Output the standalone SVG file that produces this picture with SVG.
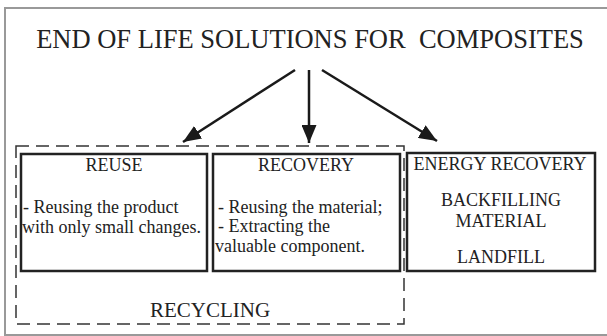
<svg xmlns="http://www.w3.org/2000/svg" width="607" height="336" viewBox="0 0 607 336">
<defs>
<style>
text{font-family:'Liberation Serif','Times New Roman',serif;fill:#222;}
.t{font-size:18px;}
.c{text-anchor:middle;}
.box{fill:none;stroke:#222;stroke-width:2.5;}
.conn line{stroke:#1a1a1a;stroke-width:2.5;}
</style>
<marker id="ah" markerUnits="userSpaceOnUse" markerWidth="19" markerHeight="15" refX="18" refY="7.5" orient="auto">
<path d="M0,0 L18,7.5 L0,15 Z" fill="#1a1a1a"/>
</marker>
</defs>
<rect width="607" height="336" fill="#fff"/>
<rect x="5" y="8" width="612" height="327" fill="none" stroke="#999" stroke-width="2"/>
<g id="title">
<text x="310" y="48" class="c" style="font-size:26.5px;white-space:pre" xml:space="preserve">END OF LIFE SOLUTIONS FOR  COMPOSITES</text>
</g>
<g id="recycling">
<rect x="16" y="146" width="388" height="178" fill="none" stroke="#333" stroke-width="1.5" stroke-dasharray="13 7"/>
<text x="210" y="317" class="c" style="font-size:21px">RECYCLING</text>
</g>
<g id="reuse">
<rect class="box" x="21" y="154" width="186" height="117"/>
<text x="114" y="171" class="t c">REUSE</text>
<text x="23" y="213" class="t">- Reusing the product</text>
<text x="22" y="233" class="t">with only small changes.</text>
</g>
<g id="recovery">
<rect class="box" x="213" y="154" width="187" height="117"/>
<text x="306" y="171" class="t c">RECOVERY</text>
<text x="218" y="213" class="t">- Reusing the material;</text>
<text x="218" y="232" class="t">- Extracting the</text>
<text x="215" y="252" class="t">valuable component.</text>
</g>
<g id="energy">
<rect class="box" x="407" y="153" width="188" height="118"/>
<text x="500" y="170" class="t c">ENERGY RECOVERY</text>
<text x="501" y="206" class="t c">BACKFILLING</text>
<text x="501" y="227" class="t c">MATERIAL</text>
<text x="501" y="263" class="t c">LANDFILL</text>
</g>
<g id="connectors" class="conn">
<line x1="295" y1="70" x2="183" y2="142" marker-end="url(#ah)"/>
<line x1="309" y1="70" x2="309" y2="143" marker-end="url(#ah)"/>
<line x1="322" y1="70" x2="437" y2="141" marker-end="url(#ah)"/>
</g>
</svg>
